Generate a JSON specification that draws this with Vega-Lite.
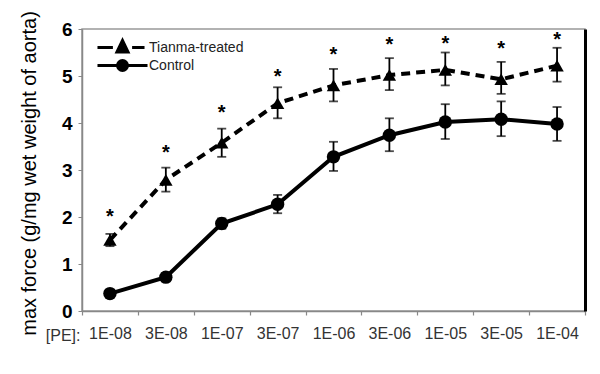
{
  "$schema": "https://vega.github.io/schema/vega-lite/v6.json",
  "width": 503,
  "height": 282,
  "autosize": {"type": "none"},
  "padding": {"left": 82, "top": 29, "right": 15, "bottom": 63},
  "background": "white",
  "config": {
    "font": "Liberation Sans",
    "view": {"stroke": "#999", "strokeWidth": 1.5}
  },
  "datasets": {
    "main": [
      {"conc": "1E-08", "group": "Tianma-treated", "value": 1.51, "lo": 1.38, "hi": 1.64},
      {"conc": "3E-08", "group": "Tianma-treated", "value": 2.79, "lo": 2.54, "hi": 3.05},
      {"conc": "1E-07", "group": "Tianma-treated", "value": 3.58, "lo": 3.28, "hi": 3.88},
      {"conc": "3E-07", "group": "Tianma-treated", "value": 4.42, "lo": 4.1, "hi": 4.76},
      {"conc": "1E-06", "group": "Tianma-treated", "value": 4.8, "lo": 4.46, "hi": 5.15},
      {"conc": "3E-06", "group": "Tianma-treated", "value": 5.02, "lo": 4.7, "hi": 5.38},
      {"conc": "1E-05", "group": "Tianma-treated", "value": 5.13, "lo": 4.8, "hi": 5.5},
      {"conc": "3E-05", "group": "Tianma-treated", "value": 4.93, "lo": 4.62, "hi": 5.3},
      {"conc": "1E-04", "group": "Tianma-treated", "value": 5.22, "lo": 4.88, "hi": 5.6},
      {"conc": "1E-08", "group": "Control", "value": 0.37, "lo": 0.3, "hi": 0.44},
      {"conc": "3E-08", "group": "Control", "value": 0.72, "lo": 0.63, "hi": 0.81},
      {"conc": "1E-07", "group": "Control", "value": 1.86, "lo": 1.75, "hi": 1.97},
      {"conc": "3E-07", "group": "Control", "value": 2.27, "lo": 2.08, "hi": 2.47},
      {"conc": "1E-06", "group": "Control", "value": 3.28, "lo": 2.98, "hi": 3.6},
      {"conc": "3E-06", "group": "Control", "value": 3.74, "lo": 3.4, "hi": 4.1},
      {"conc": "1E-05", "group": "Control", "value": 4.02, "lo": 3.66, "hi": 4.4},
      {"conc": "3E-05", "group": "Control", "value": 4.08, "lo": 3.72, "hi": 4.46},
      {"conc": "1E-04", "group": "Control", "value": 3.98, "lo": 3.62, "hi": 4.34}
    ],
    "stars": [
      {"conc": "1E-08", "y": 2.1},
      {"conc": "3E-08", "y": 3.47},
      {"conc": "1E-07", "y": 4.32},
      {"conc": "3E-07", "y": 5.09},
      {"conc": "1E-06", "y": 5.55},
      {"conc": "3E-06", "y": 5.77},
      {"conc": "1E-05", "y": 5.78},
      {"conc": "3E-05", "y": 5.68},
      {"conc": "1E-04", "y": 5.87}
    ]
  },
  "data": {"name": "main"},
  "resolve": {"axis": {"y": "independent"}},
  "layer": [
    {
      "mark": {"type": "rule", "color": "black", "strokeWidth": 1.8},
      "encoding": {
        "x": {
          "field": "conc", "type": "ordinal",
          "scale": {"domain": ["1E-08", "3E-08", "1E-07", "3E-07", "1E-06", "3E-06", "1E-05", "3E-05", "1E-04"], "paddingInner": 0, "paddingOuter": 0},
          "axis": {
            "labelAngle": 0, "labelFontSize": 16, "labelColor": "#333", "labelPadding": 10,
            "tickBand": "extent", "tickSize": 4, "tickColor": "#888", "tickWidth": 1.2,
            "domainColor": "#888", "domainWidth": 1.5,
            "title": "[PE]:", "titleFontSize": 16, "titleFontWeight": "normal", "titleColor": "#333",
            "titleX": -2, "titleY": 24, "titleAlign": "right", "titleBaseline": "middle", "titleAnchor": null
          }
        },
        "y": {
          "field": "lo", "type": "quantitative",
          "scale": {"domain": [0, 6], "nice": false, "zero": false},
          "axis": {
            "values": [0, 1, 2, 3, 4, 5, 6], "grid": false,
            "labelFontSize": 19, "labelFontWeight": "bold", "labelColor": "black", "labelPadding": 6,
            "tickSize": 4, "tickColor": "#888", "domainColor": "#888", "domainWidth": 1.5,
            "title": "max force (g/mg wet weight of aorta)", "titleFontSize": 20, "titleFontWeight": "normal", "titleColor": "black",
            "titleX": -53, "titleY": 144, "titleAngle": -90, "titleAlign": "center", "titleBaseline": "middle", "titleAnchor": null
          }
        },
        "y2": {"field": "hi"}
      }
    },
    {
      "mark": {"type": "tick", "color": "black", "thickness": 1.8, "size": 9, "orient": "horizontal"},
      "encoding": {
        "x": {"field": "conc", "type": "ordinal"},
        "y": {"field": "lo", "type": "quantitative", "axis": {"orient": "right", "labels": false, "ticks": false, "title": null, "grid": false, "domainColor": "black", "domainWidth": 3}}
      }
    },
    {
      "mark": {"type": "tick", "color": "black", "thickness": 1.8, "size": 9, "orient": "horizontal"},
      "encoding": {
        "x": {"field": "conc", "type": "ordinal"},
        "y": {"field": "hi", "type": "quantitative", "axis": null}
      }
    },
    {
      "transform": [{"filter": "datum.group === 'Tianma-treated'"}],
      "mark": {"type": "line", "color": "black", "strokeWidth": 4, "strokeDash": [9, 6]},
      "encoding": {
        "x": {"field": "conc", "type": "ordinal"},
        "y": {"field": "value", "type": "quantitative", "axis": null}
      }
    },
    {
      "transform": [{"filter": "datum.group === 'Control'"}],
      "mark": {"type": "line", "color": "black", "strokeWidth": 4},
      "encoding": {
        "x": {"field": "conc", "type": "ordinal"},
        "y": {"field": "value", "type": "quantitative", "axis": null}
      }
    },
    {
      "transform": [{"filter": "datum.group === 'Tianma-treated'"}],
      "mark": {"type": "point", "shape": "triangle-up", "filled": true, "color": "black", "size": 180, "opacity": 1},
      "encoding": {
        "x": {"field": "conc", "type": "ordinal"},
        "y": {"field": "value", "type": "quantitative", "axis": null}
      }
    },
    {
      "transform": [{"filter": "datum.group === 'Control'"}],
      "mark": {"type": "point", "shape": "circle", "filled": true, "color": "black", "size": 180, "opacity": 1},
      "encoding": {
        "x": {"field": "conc", "type": "ordinal"},
        "y": {"field": "value", "type": "quantitative", "axis": null}
      }
    },
    {
      "mark": {"type": "point", "filled": false, "color": "black", "strokeWidth": 3, "size": 144, "opacity": 0},
      "encoding": {
        "x": {"field": "conc", "type": "ordinal"},
        "y": {"field": "value", "type": "quantitative", "axis": null},
        "shape": {
          "field": "group", "type": "nominal",
          "scale": {"domain": ["Tianma-treated", "Control"], "range": ["M-4.17,0H-1.6M1.6,0H3.67M-0.92,0.75L0,-1.17L0.92,0.75ZM-0.41,0.4L0,-0.47L0.41,0.4Z", "M-4.17,0H4.17M0.83,0A0.83,0.83 0 1,1 -0.83,0A0.83,0.83 0 1,1 0.83,0ZM0.35,0A0.35,0.35 0 1,1 -0.35,0A0.35,0.35 0 1,1 0.35,0Z"]},
          "legend": {
            "title": null, "orient": "none", "legendX": 33, "legendY": 11,
            "padding": 0, "rowPadding": -4, "symbolSize": 144, "labelOffset": 19,
            "labelFontSize": 14, "labelColor": "#222",
            "symbolOpacity": 1,
            "symbolStrokeWidth": 3, "symbolStrokeColor": "black"
          }
        }
      }
    },
    {
      "data": {"name": "stars"},
      "mark": {"type": "text", "text": "*", "fontSize": 20, "fontWeight": "bold", "color": "black", "baseline": "middle", "dy": 5},
      "encoding": {
        "x": {"field": "conc", "type": "ordinal"},
        "y": {"field": "y", "type": "quantitative", "axis": null}
      }
    }
  ]
}
